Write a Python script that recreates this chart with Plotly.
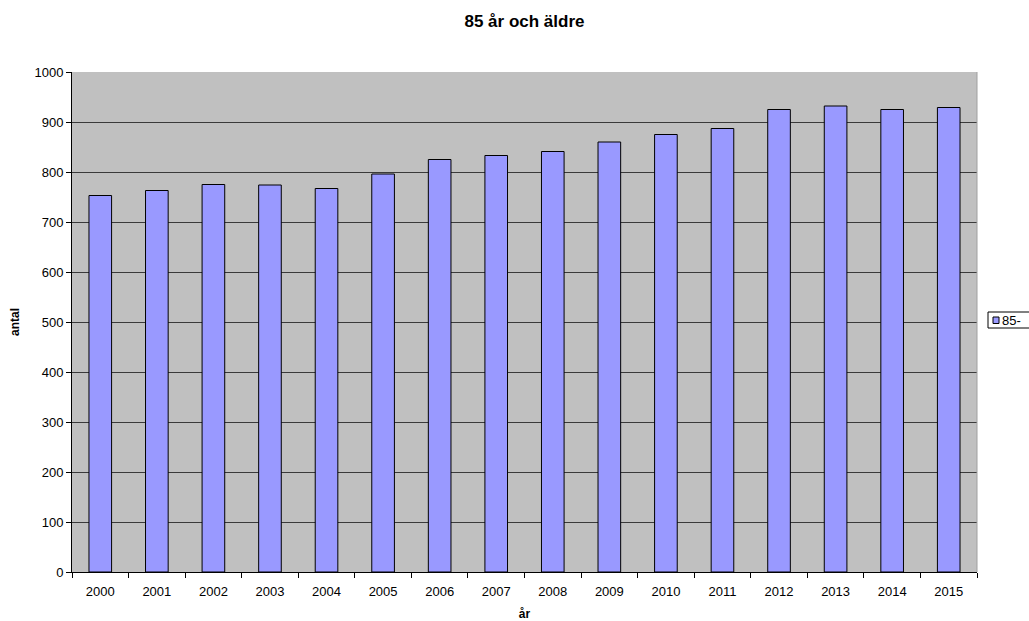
import plotly.graph_objects as go

years = ["2000", "2001", "2002", "2003", "2004", "2005", "2006", "2007",
         "2008", "2009", "2010", "2011", "2012", "2013", "2014", "2015"]
values = [753, 763, 775, 774, 767, 796, 825, 833, 841, 860, 875, 887, 925, 932, 925, 929]
series_name = "85-"
title_text = "85 år och äldre"
y_ticks = [0, 100, 200, 300, 400, 500, 600, 700, 800, 900, 1000]

W, H = 1029, 621
L, R, T, B = 72, 52, 72, 49
PW, PH = W - L - R, H - T - B


def px_x(px):
    return (px - L) / PW


def px_y(py):
    return (H - B - py) / PH


BAR_COLOR = "#9999FF"
FONT = "Liberation Sans, Arial, sans-serif"

fig = go.Figure()
fig.add_trace(go.Bar(
    x=years, y=values, name=series_name,
    marker=dict(color=BAR_COLOR, line=dict(color="#000000", width=1)),
    showlegend=False,
))

fig.update_layout(
    width=W, height=H,
    margin=dict(l=L, r=R, t=T, b=B, autoexpand=False),
    paper_bgcolor="white",
    plot_bgcolor="#C0C0C0",
    font=dict(family=FONT, size=13, color="black"),
    title=dict(text="<b>" + title_text + "</b>", x=0.5, xref="paper",
               xanchor="center", y=1 - 21 / H, yanchor="middle",
               font=dict(size=17)),
    bargap=0.6,
    showlegend=False,
    xaxis=dict(
        type="category",
        showline=True, linecolor="black", linewidth=1,
        ticks="outside", ticklen=5, tickcolor="black",
        tickson="boundaries",
        ticklabelstandoff=7,
        showgrid=False,
        tickfont=dict(size=13),
        title=dict(text="<b>år</b>", standoff=14, font=dict(size=12)),
    ),
    yaxis=dict(
        range=[0, 1000],
        tickvals=y_ticks,
        showline=True, linecolor="black", linewidth=1,
        ticks="outside", ticklen=5, tickcolor="black",
        showgrid=True, gridcolor="#3A3A3A", gridwidth=1,
        zeroline=False,
        tickfont=dict(size=13),
        title=dict(text="<b>antal</b>", standoff=12, font=dict(size=12)),
    ),
)

# plot-area frame (right edge)
fig.add_shape(type="line", xref="paper", yref="paper", x0=1, y0=0, x1=1, y1=1,
              line=dict(color="#A0A0A0", width=1))

# legend box (drawn to match the reference, clipped at the right edge)
fig.add_shape(type="rect", xref="paper", yref="paper",
              x0=px_x(988), x1=px_x(1040), y0=px_y(328), y1=px_y(312),
              line=dict(color="black", width=1), fillcolor="white")
fig.add_shape(type="rect", xref="paper", yref="paper",
              x0=px_x(993), x1=px_x(999), y0=px_y(323.5), y1=px_y(317),
              line=dict(color="black", width=1), fillcolor=BAR_COLOR)
fig.add_annotation(text=series_name, xref="paper", yref="paper",
                   x=px_x(1000), y=px_y(320), xanchor="left", yanchor="middle",
                   showarrow=False, font=dict(size=13, family=FONT))

fig.write_html("out.html")
